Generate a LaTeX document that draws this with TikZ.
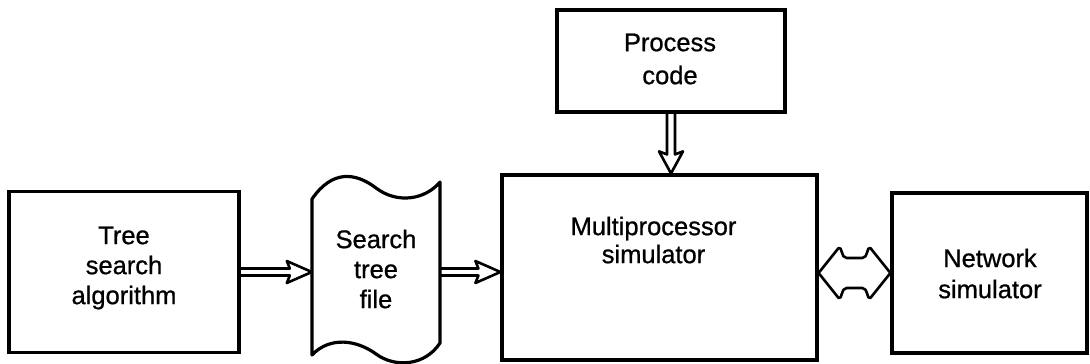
\documentclass[tikz,border=0pt]{standalone}
\usepackage{fontspec}
\setmainfont{Liberation Sans}[FakeBold=0.8]
\usetikzlibrary{calc}
\begin{document}
\begin{tikzpicture}[x=1pt,y=-1pt,
  box/.style={draw, line width=3.2pt, inner sep=0pt},
  lbl/.style={align=center, inner sep=0pt, font=\fontsize{25.5}{30}\selectfont},
  hollow/.style={draw, line width=2.6pt, line join=round, line cap=butt}]
\useasboundingbox (0,0) rectangle (1090,364);

% boxes
\node[box, minimum width=230pt, minimum height=161pt] (tree) at (124,272) {};
\node[minimum width=128pt, minimum height=150pt, inner sep=0pt] (file) at (376,272) {};
\node[box, minimum width=228pt, minimum height=102pt] (proc) at (671,61) {};
\node[box, minimum width=315pt, minimum height=185pt] (multi) at (659.5,267.5) {};
\node[box, minimum width=195pt, minimum height=160pt] (net) at (989.5,273) {};

% wavy file outline
\begin{scope}[shift={(file.center)}]
\draw[line width=3.2pt, line join=round]
  (-64,-73) .. controls (-44,-102) and (-21,-100) .. (0,-84)
  .. controls (21,-68) and (49,-72) .. (64,-90)
  -- (64,71) .. controls (49,94) and (19,96) .. (0,82)
  .. controls (-19,68) and (-46,64) .. (-64,83) -- cycle;
\end{scope}

% labels
\node[lbl] (treetxt) at (124,268) {Tree\\search\\algorithm};
\node[lbl] (filetxt) at (376,269) {Search\\tree\\file};
\node[lbl, font=\fontsize{25.5}{33}\selectfont] (proctxt) at (670,59) {Process\\code};
\node[lbl, font=\fontsize{25.5}{28}\selectfont] (multitxt) at (653.5,240) {Multiprocessor\\simulator};
\node[lbl, font=\fontsize{25.5}{31}\selectfont] (nettxt) at (990,273.5) {Network\\simulator};

% connectors
\coordinate (m2) at (multi.west |- file.east);
\coordinate (m3) at (proc.south |- multi.north);
\coordinate (m4) at (multi.east |- net.west);

\draw[hollow] ($(tree.east)+(0,-3.5)$) -- ($(file.west)+(-22,-3.5)$) -- ($(file.west)+(-25,-11)$)
  -- (file.west) -- ($(file.west)+(-25,11)$) -- ($(file.west)+(-22,3.5)$) -- ($(tree.east)+(0,3.5)$);

\draw[hollow] ($(file.east)+(0,-3.5)$) -- ($(m2)+(-22,-3.5)$) -- ($(m2)+(-25,-11)$)
  -- (m2) -- ($(m2)+(-25,11)$) -- ($(m2)+(-22,3.5)$) -- ($(file.east)+(0,3.5)$);

\draw[hollow] ($(proc.south)+(-4,0)$) -- ($(m3)+(-4,-19)$) -- ($(m3)+(-12,-22)$)
  -- (m3) -- ($(m3)+(12,-22)$) -- ($(m3)+(4,-19)$) -- ($(proc.south)+(4,0)$);

\draw[hollow] (m4) -- ($(m4)+(20,-25)$)
  .. controls ($(m4)+(24,-27)$) and ($(m4)+(22,-15)$) .. ($(m4)+(28,-15)$)
  -- ($(net.west)+(-28,-15)$)
  .. controls ($(net.west)+(-22,-15)$) and ($(net.west)+(-24,-27)$) .. ($(net.west)+(-20,-25)$)
  -- (net.west) -- ($(net.west)+(-20,25)$)
  .. controls ($(net.west)+(-24,27)$) and ($(net.west)+(-22,15)$) .. ($(net.west)+(-28,15)$)
  -- ($(m4)+(28,15)$)
  .. controls ($(m4)+(22,15)$) and ($(m4)+(24,27)$) .. ($(m4)+(20,25)$) -- cycle;
\end{tikzpicture}
\end{document}
